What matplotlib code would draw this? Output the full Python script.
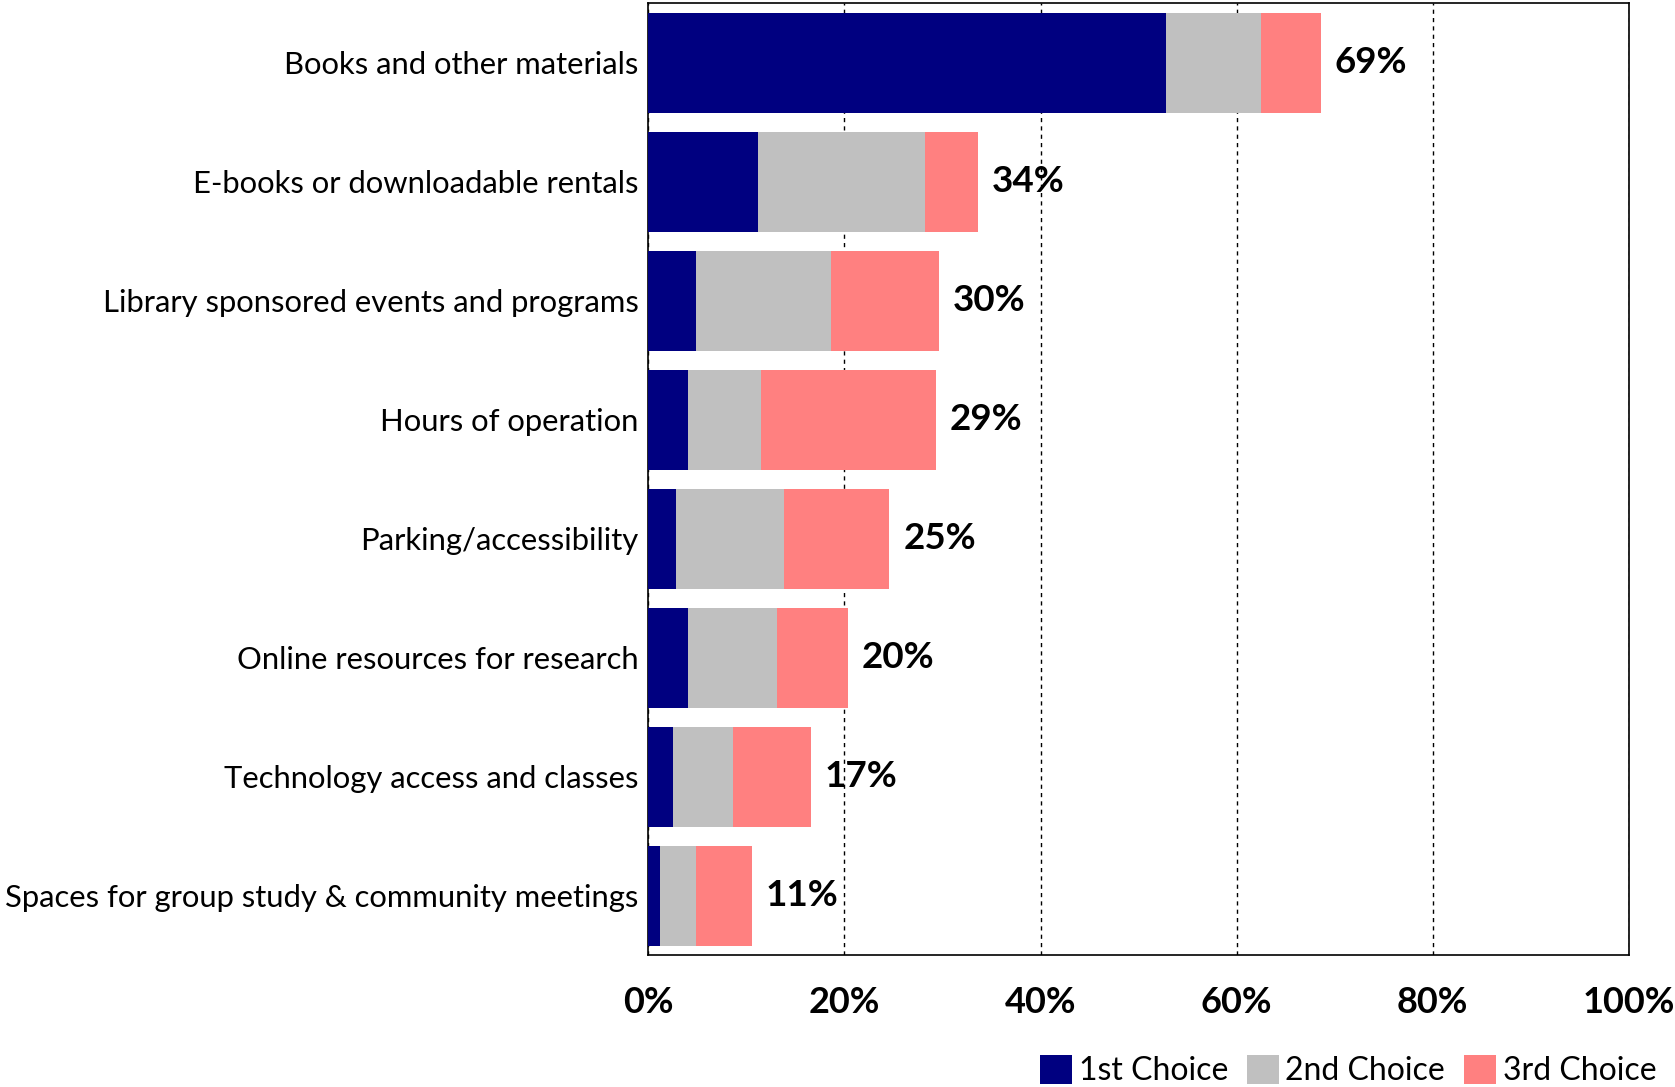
import numpy as np
import matplotlib
matplotlib.use('Agg')
import matplotlib.pyplot as plt

plt.rcParams['font.family'] = ['Lato', 'DejaVu Sans']

categories = ['Books and other materials', 'E-books or downloadable rentals',
              'Library sponsored events and programs', 'Hours of operation',
              'Parking/accessibility', 'Online resources for research',
              'Technology access and classes',
              'Spaces for group study & community meetings']
first = [52.8, 11.2, 4.9, 4.1, 2.8, 4.1, 2.5, 1.2]
second = [9.7, 17.0, 13.7, 7.4, 11.0, 9.0, 6.1, 3.7]
third = [6.1, 5.4, 11.1, 17.8, 10.8, 7.3, 8.0, 5.7]
series_names = ['1st Choice', '2nd Choice', '3rd Choice']
colors = ['#000080', '#C0C0C0', '#FF8080']

fig = plt.figure(figsize=(16.75, 10.87), dpi=100)
ax = fig.add_axes([0.387, 0.1214, 0.5855, 0.8756])

y = np.arange(len(categories))
left = np.zeros(len(categories))
for vals, name, c in zip([first, second, third], series_names, colors):
    ax.barh(y, vals, left=left, height=0.84, color=c, label=name, zorder=3)
    left += np.array(vals)

# total labels at the end of each bar
for yi, tot in zip(y, left):
    ax.text(tot + 1.4, yi, f'{tot:.0f}%', va='center', ha='left',
            fontsize=26.5, fontweight='bold', zorder=4)

ax.set_xlim(0, 100)
ax.set_ylim(len(categories) - 0.5, -0.5)
ax.set_xticks(np.arange(0, 101, 20))
ax.set_xticklabels([f'{t}%' for t in range(0, 101, 20)], fontsize=26, fontweight='bold')
ax.set_yticks(y)
ax.set_yticklabels(categories, fontsize=22.3)
ax.tick_params(axis='both', length=0)
ax.tick_params(axis='x', pad=22)
ax.tick_params(axis='y', pad=7)

ax.xaxis.grid(True, color='black', linestyle=(0, (3, 3)), linewidth=1.0, zorder=1)
for s in ax.spines.values():
    s.set_color('black')
    s.set_linewidth(1.2)

ax.legend(loc='lower right', bbox_to_anchor=(1.041, -0.1515), ncol=3, frameon=False,
          fontsize=23, handlelength=1.0, handleheight=1.0, handletextpad=0.2,
          columnspacing=0.6, borderaxespad=0)

fig.savefig('out.png', dpi=100)
